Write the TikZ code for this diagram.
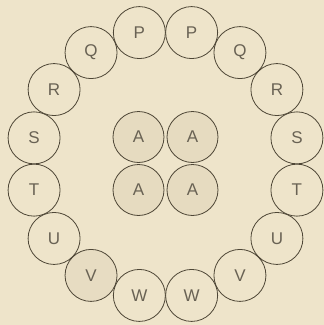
\documentclass[tikz,border=0pt]{standalone}
\usepackage{fontspec}
\setmainfont{Liberation Sans}
\definecolor{paper}{HTML}{EEE4CA}
\definecolor{ink}{HTML}{4E4636}
\definecolor{stip}{HTML}{E3D8BD}

\begin{document}
\begin{tikzpicture}[
    x=1pt, y=1pt,
    every node/.style={circle, draw=ink, line width=0.8pt, minimum size=52pt, inner sep=0pt,
        text=ink!85, font=\fontsize{17}{17}\selectfont},
    shaded/.style={fill=stip!75!paper}
]
\fill[paper] (-165.5,-161) rectangle (158.5,164);
\useasboundingbox (-165.5,-161) rectangle (158.5,164);

% outer ring, left half
\node (pl) at (101.25:134) {P};
\node (ql) at (123.75:134) {Q};
\node (rl) at (146.25:134) {R};
\node (sl) at (168.75:134) {S};
\node (tl) at (191.25:134) {T};
\node (ul) at (213.75:134) {U};
\node[fill=stip!65!paper] (vl) at (236.25:134) {V};
\node (wl) at (258.75:134) {W};

% outer ring, right half
\node (pr) at (78.75:134) {P};
\node (qr) at (56.25:134) {Q};
\node (rr) at (33.75:134) {R};
\node (sr) at (11.25:134) {S};
\node (tr) at (-11.25:134) {T};
\node (ur) at (-33.75:134) {U};
\node (vr) at (-56.25:134) {V};
\node (wr) at (-78.75:134) {W};

% inner group
\node[shaded, minimum size=51pt] (a1) at (-27,27) {A};
\node[shaded, minimum size=51pt] (a2) at (27,27) {A};
\node[shaded, minimum size=51pt] (a3) at (-27,-26) {A};
\node[shaded, minimum size=51pt] (a4) at (27,-26) {A};
\end{tikzpicture}
\end{document}
